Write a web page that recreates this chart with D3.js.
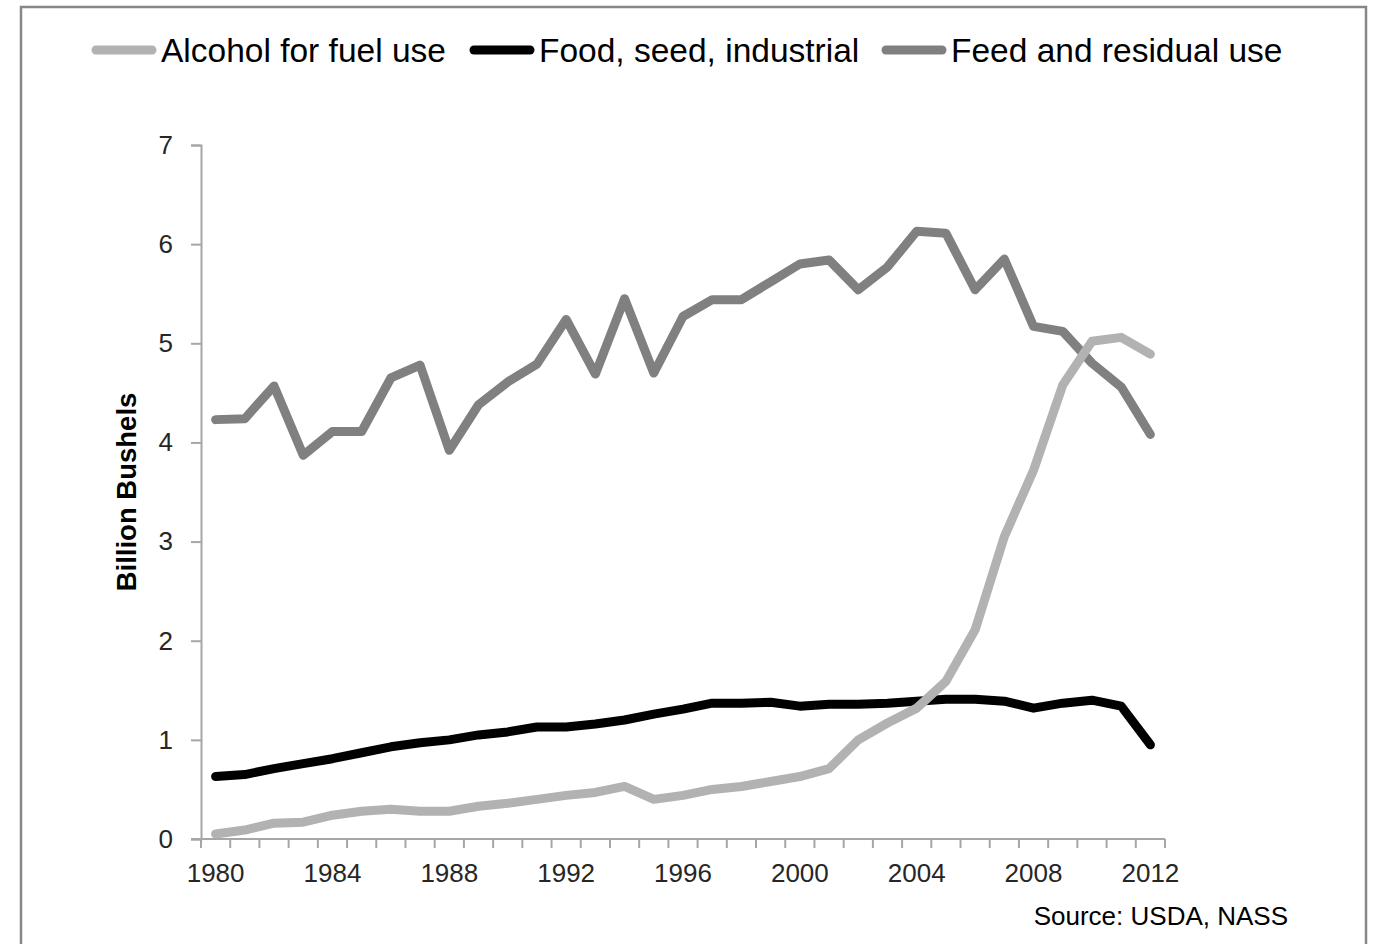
<!doctype html>
<html lang="en">
<head>
    <meta charset="utf-8" />
    <title>Corn use 1980-2012</title>
    <style>
        body { margin: 0; background: #fff; }
        svg { display: block; font-family: "Liberation Sans", Arial, sans-serif; }
    </style>
</head>
<body>
    <svg id="chart"></svg>

    <script src="https://cdn.jsdelivr.net/npm/d3@7"></script>
    <script>
        // data (billion bushels)
        const years = d3.range(1980, 2013);
        const alcohol = [0.05, 0.09, 0.16, 0.17, 0.24, 0.28, 0.30, 0.28, 0.28, 0.33, 0.36, 0.40, 0.44, 0.47,
            0.53, 0.40, 0.44, 0.50, 0.53, 0.58, 0.63, 0.71, 1.00, 1.17, 1.32, 1.59, 2.11, 3.05,
            3.72, 4.58, 5.02, 5.06, 4.89];
        const food = [0.63, 0.65, 0.71, 0.76, 0.81, 0.87, 0.93, 0.97, 1.00, 1.05, 1.08, 1.13, 1.13, 1.16,
            1.20, 1.26, 1.31, 1.37, 1.37, 1.38, 1.34, 1.36, 1.36, 1.37, 1.39, 1.41, 1.41, 1.39,
            1.32, 1.37, 1.40, 1.34, 0.95];
        const feed = [4.23, 4.24, 4.57, 3.87, 4.11, 4.11, 4.65, 4.78, 3.92, 4.38, 4.61, 4.79, 5.24, 4.69,
            5.45, 4.70, 5.27, 5.44, 5.44, 5.62, 5.80, 5.84, 5.54, 5.77, 6.13, 6.11, 5.54, 5.85,
            5.17, 5.12, 4.80, 4.56, 4.08];
        const seriesNames = ["Alcohol for fuel use", "Food, seed, industrial", "Feed and residual use"];
        const seriesColors = ["#b2b2b2", "#000000", "#808080"];
        const yTicks = [0, 1, 2, 3, 4, 5, 6, 7];
        const xLabelYears = [1980, 1984, 1988, 1992, 1996, 2000, 2004, 2008, 2012];

        const W = 1373, H = 944;
        const margin = {left: 201, right: 208, top: 145, bottom: 105};

        const svg = d3.select("#chart")
            .attr("width", W)
            .attr("height", H);

        // outer frame
        svg.append("rect")
            .attr("x", 21).attr("y", 7)
            .attr("width", 1345).attr("height", 950)
            .attr("fill", "#fff")
            .attr("stroke", "#878787")
            .attr("stroke-width", 2.5);

        const x = d3.scaleBand()
            .domain(years)
            .range([margin.left, W - margin.right])
            .padding(0);
        const xc = d => x(d) + x.bandwidth() / 2;

        const y = d3.scaleLinear()
            .domain([0, 7])
            .range([H - margin.bottom, margin.top]);

        const axisColor = "#a6a6a6";

        // y axis
        const yAxis = svg.append("g")
            .attr("transform", `translate(${margin.left},0)`)
            .call(d3.axisLeft(y).tickValues(yTicks).tickSize(10).tickPadding(18).tickFormat(d3.format("d")));
        yAxis.select(".domain").attr("stroke", axisColor).attr("stroke-width", 2);
        yAxis.selectAll(".tick line").attr("stroke", axisColor).attr("stroke-width", 2);
        yAxis.selectAll(".tick text")
            .attr("fill", "#262626")
            .attr("font-size", 26)
            .attr("font-family", "Liberation Sans, Arial, sans-serif");

        // x axis: labels every 4 years, tick marks between categories
        const xAxis = svg.append("g")
            .attr("transform", `translate(0,${H - margin.bottom})`)
            .call(d3.axisBottom(x).tickValues(xLabelYears).tickSize(0).tickPadding(25));
        xAxis.select(".domain").remove();
        xAxis.selectAll(".tick text")
            .attr("fill", "#262626")
            .attr("font-size", 26)
            .attr("font-family", "Liberation Sans, Arial, sans-serif");

        const bounds = years.map(d => x(d)).concat([x(years[years.length - 1]) + x.bandwidth()]);
        const xg = svg.append("g").attr("stroke", axisColor).attr("stroke-width", 2);
        xg.append("line")
            .attr("x1", margin.left - 10).attr("x2", W - margin.right)
            .attr("y1", y(0)).attr("y2", y(0));
        xg.selectAll("line.tk")
            .data(bounds)
            .join("line")
            .attr("class", "tk")
            .attr("x1", d => d).attr("x2", d => d)
            .attr("y1", y(0)).attr("y2", y(0) + 9);

        // y axis title
        svg.append("text")
            .attr("transform", `translate(136,${(y(0) + y(7)) / 2}) rotate(-90)`)
            .attr("text-anchor", "middle")
            .attr("font-size", 27.5)
            .attr("font-weight", "bold")
            .attr("fill", "#000")
            .text("Billion Bushels");

        // lines
        const line = d3.line()
            .x((d, i) => xc(years[i]))
            .y(d => y(d));

        const seriesData = [alcohol, food, feed];
        // draw feed first, then food, then alcohol like the picture
        const drawOrder = [2, 1, 0];
        svg.append("g")
            .attr("fill", "none")
            .attr("stroke-width", 9)
            .attr("stroke-linejoin", "round")
            .attr("stroke-linecap", "round")
            .selectAll("path")
            .data(drawOrder)
            .join("path")
            .attr("stroke", i => seriesColors[i])
            .attr("d", i => line(seriesData[i]));

        // legend
        const legendX = [92, 470, 882];
        const legend = svg.append("g")
            .selectAll("g")
            .data(seriesNames)
            .join("g")
            .attr("transform", (d, i) => `translate(${legendX[i]},50)`);
        legend.append("line")
            .attr("x1", 4).attr("x2", 60)
            .attr("stroke", (d, i) => seriesColors[i])
            .attr("stroke-width", 9)
            .attr("stroke-linecap", "round");
        legend.append("text")
            .attr("x", 69)
            .attr("y", 12)
            .attr("font-size", 33.5)
            .attr("fill", "#000")
            .text(d => d);

        // source note
        svg.append("text")
            .attr("x", 1288)
            .attr("y", 925)
            .attr("text-anchor", "end")
            .attr("font-size", 26)
            .attr("fill", "#000")
            .text("Source: USDA, NASS");
    </script>
</body>
</html>
